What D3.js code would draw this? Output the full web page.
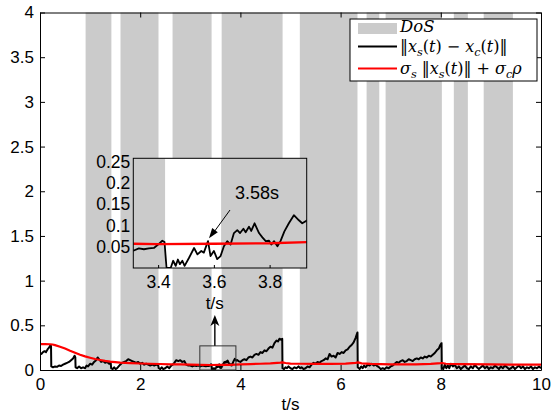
<!DOCTYPE html>
<html><head><meta charset="utf-8">
<script src="https://cdn.jsdelivr.net/npm/d3@7"></script>
<style>body{margin:0;background:#fff}</style>
</head><body>
<svg id="chart" width="551" height="414"></svg>
<script>
// DoS attack intervals [start, end] in seconds
const dosIntervals = [[0.91,1.425],[1.607,2.365],[2.646,3.425],[3.626,4.842],[5.186,6.337],[6.519,6.772],[6.898,8.021],[8.26,8.54],[8.856,9.439]];
const xTicks = [0,2,4,6,8,10];
const yTicks = [0,0.5,1,1.5,2,2.5,3,3.5,4];
const insetXTicks = [3.4,3.6,3.8];
const insetYTicks = [0.05,0.1,0.15,0.2,0.25];
// ||x_s(t) - x_c(t)||  as [t, value]
const errorSeries = [
[0,0.19],[0.03,0.18],[0.06,0.2],[0.09,0.21],[0.12,0.2],[0.15,0.23],[0.18,0.25],[0.21,0.28],[0.22,0.27],[0.225,0.04],
[0.26,0.03],[0.3,0.04],[0.34,0.035],[0.38,0.05],[0.42,0.045],[0.46,0.06],[0.5,0.07],[0.54,0.08],[0.58,0.09],[0.62,0.11],
[0.66,0.13],[0.69,0.16],[0.705,0.14],[0.71,0.03],[0.74,0.02],[0.78,0.04],[0.82,0.02],[0.86,0.03],[0.9,0.02],
[0.93,0.05],[0.96,0.04],[1.0,0.07],[1.04,0.06],[1.08,0.09],[1.12,0.11],[1.15,0.14],[1.18,0.12],[1.22,0.09],[1.26,0.1],
[1.3,0.08],[1.34,0.09],[1.38,0.07],[1.41,0.09],[1.42,0.02],
[1.45,0.01],[1.48,0.03],[1.51,0.01],[1.54,0.02],[1.57,0.04],[1.6,0.06],
[1.64,0.08],[1.68,0.09],[1.72,0.1],[1.76,0.12],[1.8,0.11],[1.84,0.1],[1.88,0.09],[1.92,0.08],[1.96,0.09],[2.0,0.07],
[2.04,0.08],[2.08,0.06],[2.12,0.07],[2.16,0.06],[2.2,0.05],[2.24,0.06],[2.28,0.05],[2.32,0.06],[2.36,0.05],[2.37,0.02],
[2.4,0.01],[2.43,0.03],[2.46,0.01],[2.5,0.02],[2.54,0.04],[2.58,0.02],[2.62,0.05],[2.65,0.06],
[2.68,0.08],[2.72,0.11],[2.76,0.1],[2.8,0.11],[2.84,0.09],[2.88,0.1],[2.92,0.06],[2.96,0.05],[3.0,0.05],[3.04,0.04],
[3.08,0.05],[3.12,0.045],[3.16,0.05],[3.2,0.04],[3.24,0.05],[3.28,0.045],
[3.313,0.041],[3.331,0.046],[3.349,0.044],[3.367,0.046],[3.385,0.047],[3.4,0.055],[3.415,0.064],[3.423,0.061],[3.43,0.001],[3.445,0.0],
[3.454,0.017],[3.463,0.005],[3.471,0.02],[3.478,0.009],[3.487,0.017],[3.495,0.005],[3.511,0.024],[3.529,0.047],[3.541,0.032],[3.555,0.04],
[3.564,0.036],[3.579,0.063],[3.588,0.028],[3.6,0.04],[3.612,0.021],[3.624,0.028],[3.636,0.051],[3.648,0.063],[3.66,0.055],[3.672,0.082],
[3.684,0.089],[3.694,0.082],[3.706,0.092],[3.714,0.084],[3.726,0.097],[3.734,0.087],[3.746,0.105],[3.762,0.082],[3.774,0.072],[3.786,0.063],
[3.798,0.064],[3.806,0.055],[3.816,0.063],[3.828,0.051],[3.839,0.063],[3.853,0.086],[3.869,0.105],[3.887,0.124],[3.905,0.112],[3.917,0.105],[3.935,0.112],
[3.96,0.1],[4.0,0.09],[4.04,0.11],[4.08,0.12],[4.12,0.11],[4.16,0.14],[4.2,0.15],[4.24,0.14],[4.28,0.17],[4.32,0.18],
[4.36,0.17],[4.4,0.2],[4.44,0.19],[4.48,0.22],[4.52,0.21],[4.56,0.24],[4.6,0.26],[4.64,0.25],[4.68,0.3],[4.72,0.33],
[4.75,0.32],[4.78,0.35],[4.81,0.34],[4.835,0.35],[4.84,0.02],
[4.87,0.01],[4.9,0.03],[4.93,0.02],[4.96,0.04],[5.0,0.02],[5.04,0.01],[5.08,0.03],[5.12,0.02],[5.16,0.04],[5.19,0.02],
[5.22,0.03],[5.26,0.01],[5.3,0.02],[5.34,0.04],[5.38,0.03],[5.42,0.06],[5.46,0.08],[5.5,0.07],[5.54,0.09],[5.58,0.08],
[5.62,0.1],[5.66,0.11],[5.7,0.13],[5.74,0.12],[5.78,0.18],[5.82,0.15],[5.86,0.16],[5.9,0.14],[5.94,0.19],[5.98,0.18],
[6.02,0.2],[6.06,0.19],[6.1,0.22],[6.14,0.23],[6.18,0.26],[6.22,0.28],[6.26,0.31],[6.3,0.36],[6.33,0.41],[6.337,0.42],[6.342,0.03],
[6.38,0.01],[6.41,0.04],[6.44,0.02],[6.47,0.05],[6.5,0.03],
[6.54,0.06],[6.58,0.05],[6.62,0.07],[6.66,0.05],[6.7,0.06],[6.74,0.04],[6.77,0.03],
[6.8,0.01],[6.84,0.02],[6.88,0.01],
[6.92,0.03],[6.96,0.02],[7.0,0.04],[7.04,0.05],[7.08,0.07],[7.12,0.09],[7.16,0.08],[7.2,0.1],[7.24,0.11],[7.28,0.09],
[7.32,0.1],[7.36,0.12],[7.4,0.11],[7.44,0.1],[7.48,0.12],[7.52,0.13],[7.56,0.12],[7.6,0.14],[7.64,0.13],[7.68,0.15],
[7.72,0.14],[7.76,0.16],[7.8,0.15],[7.84,0.17],[7.88,0.19],[7.92,0.22],[7.96,0.24],[7.99,0.28],[8.015,0.3],[8.02,0.02],
[8.05,0.01],[8.08,0.06],[8.11,0.02],[8.14,0.05],[8.17,0.02],[8.2,0.07],[8.24,0.04],[8.28,0.06],[8.32,0.02],[8.36,0.04],
[8.4,0.01],[8.44,0.03],[8.48,0.05],[8.52,0.02],[8.56,0.01],[8.6,0.04],[8.64,0.02],[8.68,0.06],[8.72,0.03],[8.76,0.01],
[8.8,0.03],[8.84,0.05],[8.88,0.02],[8.92,0.04],[8.96,0.01],[9.0,0.03],[9.04,0.02],[9.08,0.05],[9.12,0.03],[9.16,0.01],
[9.2,0.04],[9.24,0.02],[9.28,0.05],[9.32,0.03],[9.36,0.01],[9.4,0.02],[9.44,0.04],[9.48,0.01],[9.52,0.03],[9.56,0.05],
[9.6,0.02],[9.64,0.04],[9.68,0.01],[9.72,0.03],[9.76,0.02],[9.8,0.04],[9.84,0.01],[9.88,0.03],[9.92,0.02],[9.96,0.04],[10.0,0.02]
];
// sigma_s ||x_s(t)|| + sigma_c rho  as [t, value]
const boundSeries = [
[0,0.29],[0.1,0.29],[0.2,0.288],[0.25,0.285],[0.3,0.278],[0.4,0.26],[0.5,0.24],[0.6,0.215],[0.7,0.192],[0.8,0.17],
[0.9,0.152],[1.0,0.137],[1.1,0.123],[1.2,0.112],[1.3,0.102],[1.4,0.094],[1.5,0.088],[1.6,0.083],[1.8,0.077],[2.0,0.073],
[2.2,0.07],[2.4,0.067],[2.6,0.064],[2.8,0.062],[3.0,0.06],[3.2,0.058],[3.4,0.056],[3.6,0.057],[3.8,0.058],[4.0,0.062],
[4.2,0.066],[4.4,0.07],[4.6,0.074],[4.8,0.082],[4.84,0.086],[4.9,0.078],[5.0,0.072],[5.2,0.07],[5.5,0.068],[5.8,0.069],
[6.1,0.072],[6.3,0.08],[6.35,0.084],[6.42,0.074],[6.6,0.068],[7.0,0.064],[7.5,0.064],[7.8,0.068],[8.0,0.076],[8.03,0.078],
[8.1,0.07],[8.4,0.065],[9.0,0.062],[9.5,0.06],[10,0.06]
];
// zoomed window shown in the inset (data units)
const zoomT = [3.19, 3.91];
const zoomV = [0, 0.27];
const insetT = [3.311, 3.933];
const insetV = [0, 0.2575];
const markT = 3.579, markV = 0.063;

const svg = d3.select("#chart");
const sans = "'Liberation Sans', Arial, sans-serif";
const serif = "'DejaVu Serif', 'Liberation Serif', serif";
const GRAY = "#cbcbcb";
const FS = 17;

const x = d3.scaleLinear().domain([0,10]).range([40,541]);
const y = d3.scaleLinear().domain([0,4]).range([370,12.5]);

svg.append("defs").append("clipPath").attr("id","mainClip")
  .append("rect").attr("x",40).attr("y",12.5).attr("width",501).attr("height",357.5);

const main = svg.append("g");
main.selectAll("rect.dos").data(dosIntervals).join("rect").attr("class","dos")
  .attr("x",d=>x(d[0])).attr("width",d=>x(d[1])-x(d[0]))
  .attr("y",y(4)).attr("height",y(0)-y(4)).attr("fill",GRAY);

const line = (sx,sy)=>d3.line().x(d=>sx(d[0])).y(d=>sy(d[1]));
const plotG = main.append("g").attr("clip-path","url(#mainClip)");
plotG.append("path").datum(errorSeries).attr("d",line(x,y)).attr("fill","none")
  .attr("stroke","#000").attr("stroke-width",2).attr("stroke-linejoin","round");
plotG.append("path").datum(boundSeries).attr("d",line(x,y)).attr("fill","none")
  .attr("stroke","#f00").attr("stroke-width",2.2);

// axes (ticks pointing inward, box style)
const fmt = d3.format("~g");
const axB = svg.append("g").attr("transform",`translate(0,${y(0)})`)
  .call(d3.axisBottom(x).tickValues(xTicks).tickFormat(fmt).tickSizeInner(-5).tickSizeOuter(0).tickPadding(8));
const axL = svg.append("g").attr("transform",`translate(${x(0)},0)`)
  .call(d3.axisLeft(y).tickValues(yTicks).tickFormat(fmt).tickSizeInner(-5).tickSizeOuter(0).tickPadding(6));
const axT = svg.append("g").attr("transform",`translate(0,${y(4)})`)
  .call(d3.axisTop(x).tickValues(xTicks).tickFormat("").tickSizeInner(-5).tickSizeOuter(0));
const axR = svg.append("g").attr("transform",`translate(${x(10)},0)`)
  .call(d3.axisRight(y).tickValues(yTicks).tickFormat("").tickSizeInner(-5).tickSizeOuter(0));
[axB,axL,axT,axR].forEach(a=>{
  a.select(".domain").attr("stroke","#000").attr("stroke-width",1);
  a.selectAll(".tick line").attr("stroke","#000");
  a.selectAll("text").attr("font-family",sans).attr("font-size",FS).attr("fill","#000");
});

svg.append("text").attr("x",(x(0)+x(10))/2).attr("y",410).attr("text-anchor","middle")
  .attr("font-family",sans).attr("font-size",FS).text("t/s");

// zoom rectangle and arrow
svg.append("rect").attr("x",x(zoomT[0])).attr("y",y(zoomV[1]))
  .attr("width",x(zoomT[1])-x(zoomT[0])).attr("height",y(zoomV[0])-y(zoomV[1]))
  .attr("fill","none").attr("stroke","#333").attr("stroke-width",1);
const ax0 = x(3.49);
svg.append("line").attr("x1",ax0).attr("x2",ax0).attr("y1",y(zoomV[1])).attr("y2",320)
  .attr("stroke","#000").attr("stroke-width",1.4);
svg.append("path").attr("d",`M${ax0},315 L${ax0-4.5},326 L${ax0},323 L${ax0+4.5},326 Z`).attr("fill","#000");

// inset
const xi = d3.scaleLinear().domain(insetT).range([133.3,306.7]);
const yi = d3.scaleLinear().domain(insetV).range([268,158.3]);
svg.select("defs").append("clipPath").attr("id","insetClip")
  .append("rect").attr("x",133.3).attr("y",158.3).attr("width",173.4).attr("height",109.7);
const inset = svg.append("g");
inset.append("rect").attr("x",133.3).attr("y",158.3).attr("width",173.4).attr("height",109.7).attr("fill","#fff");
const insetPlot = inset.append("g").attr("clip-path","url(#insetClip)");
insetPlot.selectAll("rect").data(dosIntervals).join("rect")
  .attr("x",d=>xi(d[0])).attr("width",d=>Math.max(0,xi(d[1])-xi(d[0])))
  .attr("y",158.3).attr("height",109.7).attr("fill",GRAY);
insetPlot.append("path").datum(errorSeries).attr("d",line(xi,yi)).attr("fill","none")
  .attr("stroke","#000").attr("stroke-width",1.8).attr("stroke-linejoin","round");
insetPlot.append("path").datum(boundSeries).attr("d",line(xi,yi)).attr("fill","none")
  .attr("stroke","#f00").attr("stroke-width",2.4);
const iB = inset.append("g").attr("transform","translate(0,268)")
  .call(d3.axisBottom(xi).tickValues(insetXTicks).tickFormat(fmt).tickSizeInner(-3).tickSizeOuter(0).tickPadding(8));
const iL = inset.append("g").attr("transform","translate(133.3,0)")
  .call(d3.axisLeft(yi).tickValues(insetYTicks).tickFormat(fmt).tickSizeInner(0).tickSizeOuter(0).tickPadding(3));
[iB,iL].forEach(a=>{
  a.select(".domain").remove();
  a.selectAll(".tick line").attr("stroke","#000");
  a.selectAll("text").attr("font-family",sans).attr("font-size",FS+0.5).attr("fill","#000");
});
inset.append("rect").attr("x",133.3).attr("y",158.3).attr("width",173.4).attr("height",109.7)
  .attr("fill","none").attr("stroke","#000").attr("stroke-width",1);
inset.append("text").attr("x",ax0).attr("y",309).attr("text-anchor","middle")
  .attr("font-family",sans).attr("font-size",FS).text("t/s");

// 3.58 s annotation
const mx = xi(markT), my = yi(markV);
svg.append("line").attr("x1",230).attr("y1",210).attr("x2",mx+3).attr("y2",my-5)
  .attr("stroke","#000").attr("stroke-width",1);
(function(){
  const tx = mx+1, ty = my-3, ang = Math.atan2(210-ty,230-tx);
  const L=10, W=3.5;
  const bx = tx+L*Math.cos(ang), by = ty+L*Math.sin(ang);
  const px = -Math.sin(ang)*W, py = Math.cos(ang)*W;
  svg.append("path").attr("d",`M${tx},${ty} L${bx+px},${by+py} L${bx-px},${by-py} Z`).attr("fill","#000");
})();
svg.append("text").attr("x",257).attr("y",198.5).attr("text-anchor","middle")
  .attr("font-family",sans).attr("font-size",18).text("3.58s");

// legend
const lg = svg.append("g");
lg.append("rect").attr("x",350).attr("y",19).attr("width",187).attr("height",62)
  .attr("fill","#fff").attr("stroke","#000").attr("stroke-width",1);
lg.append("rect").attr("x",358).attr("y",23).attr("width",39).attr("height",11).attr("fill",GRAY);
lg.append("line").attr("x1",358).attr("x2",397).attr("y1",46.5).attr("y2",46.5).attr("stroke","#000").attr("stroke-width",2);
lg.append("line").attr("x1",358).attr("x2",397).attr("y1",68.5).attr("y2",68.5).attr("stroke","#f00").attr("stroke-width",2);

function mathText(xp, yp, size, parts){
  const t = lg.append("text").attr("x",xp).attr("y",yp).attr("font-family",serif).attr("font-size",size);
  let shift = 0;
  parts.forEach(p=>{
    const s = t.append("tspan").text(p.t);
    if (p.i) s.attr("font-style","italic");
    const target = p.sub ? 3.5 : 0;
    if (target !== shift){ s.attr("dy", target-shift); shift = target; }
    if (p.sub) s.attr("font-size",size*0.7);
  });
}
mathText(400,32,16.5,[{t:"DoS",i:1}]);
mathText(400,52,16,[{t:"‖"},{t:"x",i:1},{t:"s",i:1,sub:1},{t:"("},{t:"t",i:1},{t:") − "},{t:"x",i:1},{t:"c",i:1,sub:1},{t:"("},{t:"t",i:1},{t:")‖"}]);
mathText(400,74,16,[{t:"σ",i:1},{t:"s",i:1,sub:1},{t:" ‖"},{t:"x",i:1},{t:"s",i:1,sub:1},{t:"("},{t:"t",i:1},{t:")‖ + "},{t:"σ",i:1},{t:"c",i:1,sub:1},{t:"ρ",i:1}]);
</script>
</body></html>
